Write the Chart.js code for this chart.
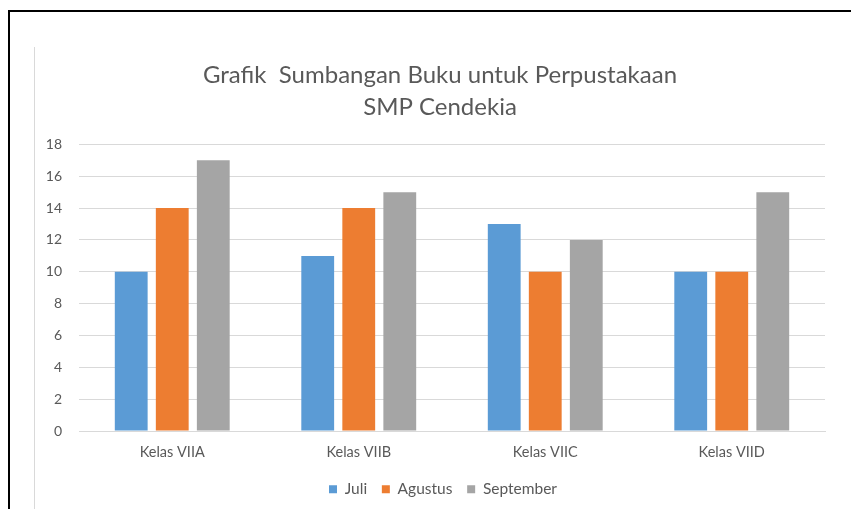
<!DOCTYPE html>
<html>
<head>
<meta charset="utf-8">
<script src="https://cdn.jsdelivr.net/npm/chart.js@4"></script>
<style>
  html, body { margin: 0; padding: 0; background: #fff; }
  #wrap { position: relative; width: 851px; height: 509px; overflow: hidden; }
  #frameTop { position: absolute; left: 8px; top: 10px; width: 843px; height: 2px; background: #000; }
  #frameLeft { position: absolute; left: 8px; top: 10px; width: 2px; height: 499px; background: #000; }
  #innerLine { position: absolute; left: 34px; top: 47px; width: 1px; height: 462px; background: #d9d9d9; }
  canvas { position: absolute; left: 0; top: 0; }
</style>
</head>
<body>
<div id="wrap">
  <div id="frameTop"></div>
  <div id="frameLeft"></div>
  <div id="innerLine"></div>
  <canvas id="bookChart" width="851" height="509"></canvas>
</div>
<script>
// Data
const classes = ['Kelas VIIA', 'Kelas VIIB', 'Kelas VIIC', 'Kelas VIID'];
const juli = [10, 11, 13, 10];
const agustus = [14, 14, 10, 10];
const september = [17, 15, 12, 15];
const yTicks = [0, 2, 4, 6, 8, 10, 12, 14, 16, 18];

const textColor = '#595959';
const fontFamily = 'Lato, "Open Sans", sans-serif';

// title and legend in the original sit a little right of the canvas centre
const centreShift = {
    id: 'centreShift',
    afterLayout(chart) {
        if (chart.titleBlock) chart.titleBlock.left += 20;
        if (chart.legend) chart.legend.left += 26;
    }
};

const ctx = document.getElementById('bookChart').getContext('2d');
new Chart(ctx, {
    type: 'bar',
    data: {
        labels: classes,
        datasets: [
            { label: 'Juli', data: juli, backgroundColor: '#5b9bd5' },
            { label: 'Agustus', data: agustus, backgroundColor: '#ed7d31' },
            { label: 'September', data: september, backgroundColor: '#a5a5a5' }
        ]
    },
    options: {
        responsive: false,
        animation: false,
        categoryPercentage: 0.66,
        barPercentage: 0.8,
        layout: { padding: { top: 60, left: 35, right: 26, bottom: 2 } },
        plugins: {
            title: {
                display: true,
                text: ['Grafik  Sumbangan Buku untuk Perpustakaan', 'SMP Cendekia'],
                color: textColor,
                font: { family: fontFamily, size: 24, weight: 'normal', lineHeight: 1.3 },
                padding: { top: 0, bottom: 22 }
            },
            legend: {
                position: 'bottom',
                labels: {
                    color: textColor,
                    font: { family: fontFamily, size: 15.5 },
                    boxWidth: 8,
                    boxHeight: 8,
                    padding: 7,
                    // a bit more room between the legend entries
                    generateLabels: (chart) => Chart.defaults.plugins.legend.labels.generateLabels(chart)
                        .map((item, i, all) => ({ ...item, text: i < all.length - 1 ? item.text + '\u2002' : item.text }))
                }
            },
            tooltip: { enabled: false }
        },
        scales: {
            x: {
                grid: { display: false, drawTicks: false },
                border: { display: true, color: '#d9d9d9' },
                ticks: { color: textColor, font: { family: fontFamily, size: 14.5 }, padding: 13 }
            },
            y: {
                min: 0,
                max: 18,
                afterBuildTicks: (scale) => { scale.ticks = yTicks.map(v => ({ value: v })); },
                afterFit: (scale) => { scale.width = 44; },
                grid: { color: '#d9d9d9', drawTicks: false },
                border: { display: false },
                ticks: { color: textColor, font: { family: fontFamily, size: 14 }, padding: 17 }
            }
        }
    },
    plugins: [centreShift]
});
</script>
</body>
</html>
